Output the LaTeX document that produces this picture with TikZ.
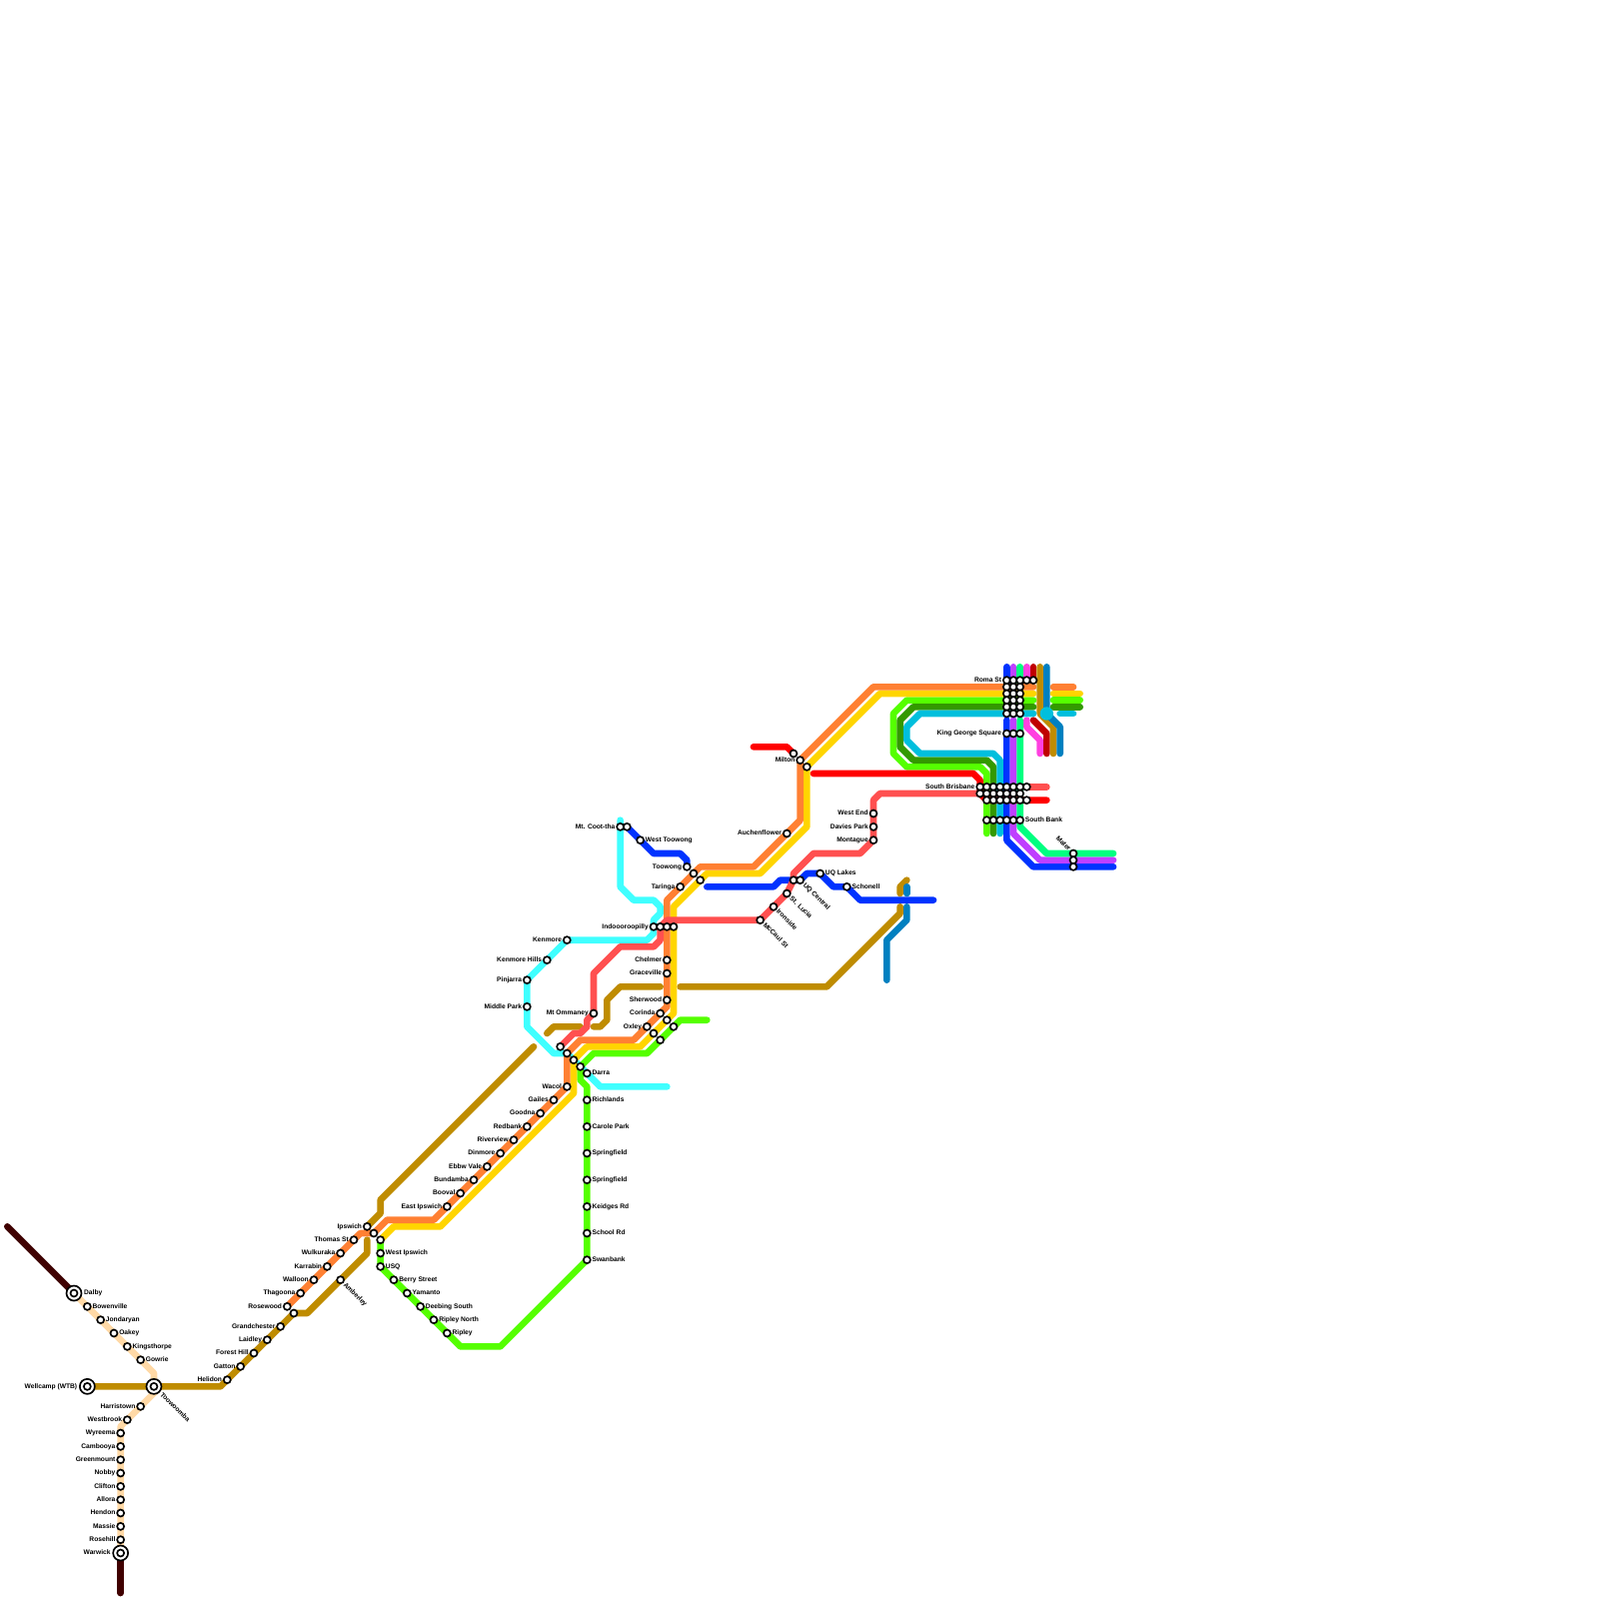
\documentclass[tikz,border=0pt]{standalone}
\usepackage{fontspec}
\setmainfont{Liberation Sans}
\pgfdeclarelayer{bg}
\pgfsetlayers{bg,main}
\definecolor{corange}{HTML}{FF8033}
\definecolor{cyellow}{HTML}{FFD500}
\definecolor{cgreen}{HTML}{55FF00}
\definecolor{cdgreen}{HTML}{339900}
\definecolor{ccyan}{HTML}{00BFDD}
\definecolor{cblue}{HTML}{0033FF}
\definecolor{cpurple}{HTML}{BF40FF}
\definecolor{cspring}{HTML}{00FF80}
\definecolor{cmagenta}{HTML}{FF40E0}
\definecolor{ccrimson}{HTML}{C00000}
\definecolor{cbrown}{HTML}{BF8C00}
\definecolor{csteel}{HTML}{0080C0}
\definecolor{ccoral}{HTML}{FF5050}
\definecolor{cred}{HTML}{FF0000}
\definecolor{caqua}{HTML}{40FFFF}
\definecolor{cpeach}{HTML}{FFD9A6}
\definecolor{cdark}{HTML}{400000}
\tikzset{
  metro/.style={draw=#1,line width=1mm,line cap=round,line join=round},
  sta/.style={circle,draw=black,fill=white,line width=.25mm,minimum size=1.05mm,inner sep=0pt},
  hub/.style={circle,draw=black,fill=white,line width=.25mm,minimum size=2.25mm,inner sep=0pt},
  lbl/.style={font=\fontsize{2.845pt}{3pt}\selectfont\bfseries,inner sep=0pt,text height=.75mm,text depth=.18mm,text=black}
}
\newcommand{\st}[3]{\node[sta] (#1) at (#2,#3) {};}
\newcommand{\stL}[4]{\node[sta] (#1) at (#2,#3) {};\node[lbl,anchor=east] (#1-t) at ([xshift=-.72mm]#1.center) {#4};}
\newcommand{\stR}[4]{\node[sta] (#1) at (#2,#3) {};\node[lbl,anchor=west] (#1-t) at ([xshift=.72mm]#1.center) {#4};}
\newcommand{\stD}[4]{\node[sta] (#1) at (#2,#3) {};\node[lbl,anchor=west,rotate=-45] (#1-t) at ([xshift=.55mm,yshift=-.55mm]#1.center) {#4};}
\newcommand{\hubL}[4]{\node[hub] (#1) at (#2,#3) {};\node[sta] (#1-i) at (#2,#3) {};\node[lbl,anchor=east] (#1-t) at ([xshift=-1.45mm]#1.center) {#4};}
\newcommand{\hubR}[4]{\node[hub] (#1) at (#2,#3) {};\node[sta] (#1-i) at (#2,#3) {};\node[lbl,anchor=west] (#1-t) at ([xshift=1.45mm]#1.center) {#4};}
\newcommand{\hubD}[4]{\node[hub] (#1) at (#2,#3) {};\node[sta] (#1-i) at (#2,#3) {};\node[lbl,anchor=west,rotate=-45] (#1-t) at ([xshift=1.05mm,yshift=-1.05mm]#1.center) {#4};}
\begin{document}
\begin{tikzpicture}[x=1mm,y=-1mm]
\useasboundingbox (-.1,-.1) rectangle (239.9,239.9);
% --- western termini
\hubR{dalby}{11}{194}{Dalby}
\stR{bowenville}{13}{196}{Bowenville}
\stR{jondaryan}{15}{198}{Jondaryan}
\stR{oakey}{17}{200}{Oakey}
\stR{kingsthorpe}{19}{202}{Kingsthorpe}
\stR{gowrie}{21}{204}{Gowrie}
\hubD{toowoomba}{23}{208}{Toowoomba}
\hubL{wellcamp}{13}{208}{Wellcamp (WTB)}
\stL{harristown}{21}{211}{Harristown}
\stL{westbrook}{19}{213}{Westbrook}
\stL{wyreema}{18}{215}{Wyreema}
\stL{cambooya}{18}{217}{Cambooya}
\stL{greenmount}{18}{219}{Greenmount}
\stL{nobby}{18}{221}{Nobby}
\stL{clifton}{18}{223}{Clifton}
\stL{allora}{18}{225}{Allora}
\stL{hendon}{18}{227}{Hendon}
\stL{massie}{18}{229}{Massie}
\stL{rosehill}{18}{231}{Rosehill}
\hubL{warwick}{18}{233}{Warwick}
% --- Ipswich west
\stL{helidon}{34}{207}{Helidon}
\stL{gatton}{36}{205}{Gatton}
\stL{foresthill}{38}{203}{Forest Hill}
\stL{laidley}{40}{201}{Laidley}
\stL{grandchester}{42}{199}{Grandchester}
\stL{rosewood}{43}{196}{Rosewood}
\st{rosewoodb}{44}{197}
\stL{thagoona}{45}{194}{Thagoona}
\stL{walloon}{47}{192}{Walloon}
\stL{karrabin}{49}{190}{Karrabin}
\stL{wulkuraka}{51}{188}{Wulkuraka}
\stL{thomas}{53}{186}{Thomas St}
\stL{ipswich}{55}{184}{Ipswich}
\st{ipswichb}{56}{185}
\st{ipswichc}{57}{186}
\stD{amberley}{51}{192}{Amberley}
% --- Ripley branch
\stR{westipswich}{57}{188}{West Ipswich}
\stR{usq}{57}{190}{USQ}
\stR{berry}{59}{192}{Berry Street}
\stR{yamanto}{61}{194}{Yamanto}
\stR{deebing}{63}{196}{Deebing South}
\stR{ripleyn}{65}{198}{Ripley North}
\stR{ripley}{67}{200}{Ripley}
\stR{swanbank}{88}{189}{Swanbank}
\stR{schoolrd}{88}{185}{School Rd}
\stR{keidges}{88}{181}{Keidges Rd}
\stR{springa}{88}{177}{Springfield}
\stR{springb}{88}{173}{Springfield}
\stR{carole}{88}{169}{Carole Park}
\stR{richlands}{88}{165}{Richlands}
\stR{darra}{88}{161}{Darra}
% --- Ipswich line
\stL{eastipswich}{67}{181}{East Ipswich}
\stL{booval}{69}{179}{Booval}
\stL{bundamba}{71}{177}{Bundamba}
\stL{ebbw}{73}{175}{Ebbw Vale}
\stL{dinmore}{75}{173}{Dinmore}
\stL{riverview}{77}{171}{Riverview}
\stL{redbank}{79}{169}{Redbank}
\stL{goodna}{81}{167}{Goodna}
\stL{gailes}{83}{165}{Gailes}
\stL{wacol}{85}{163}{Wacol}
\st{jcoral}{84}{157}
\st{jorange}{85}{158}
\st{jyellow}{86}{159}
\st{jgreen}{87}{160}
\stL{oxley}{97}{154}{Oxley}
\st{oxleyb}{98}{155}
\st{oxleyc}{99}{156}
\stL{corinda}{99}{152}{Corinda}
\st{corindab}{100}{153}
\st{corindac}{101}{154}
\stL{sherwood}{100}{150}{Sherwood}
\stL{graceville}{100}{146}{Graceville}
\stL{chelmer}{100}{144}{Chelmer}
\stL{indro}{98}{139}{Indoooroopilly}
\st{indrob}{99}{139}
\st{indroc}{100}{139}
\st{indrod}{101}{139}
\stL{mtommaney}{89}{152}{Mt Ommaney}
\stL{middlepark}{79}{151}{Middle Park}
\stL{pinjarra}{79}{147}{Pinjarra}
\stL{kenmorehills}{82}{144}{Kenmore Hills}
\stL{kenmore}{85}{141}{Kenmore}
\stL{coottha}{93}{124}{Mt. Coot-tha}
\st{cootthab}{94}{124}
\stR{westtoowong}{96}{126}{West Toowong}
\stL{toowong}{103}{130}{Toowong}
\st{toowongb}{104}{131}
\st{toowongc}{105}{132}
\stL{taringa}{102}{133}{Taringa}
\stL{auchenflower}{118}{125}{Auchenflower}
\st{miltonr}{119}{113}
\stL{milton}{120}{114}{Milton}
\st{miltony}{121}{115}
% --- UQ
\stD{mccaul}{114}{138}{McCaul St}
\stD{ironside}{116}{136}{Ironside}
\stD{stlucia}{118}{134}{St. Lucia}
\st{uqa}{119}{132}
\stD{uqcentral}{120}{132}{UQ Central}
\stR{uqlakes}{123}{131}{UQ Lakes}
\stR{schonell}{127}{133}{Schonell}
\stL{montague}{131}{126}{Montague}
\stL{davies}{131}{124}{Davies Park}
\stL{westend}{131}{122}{West End}
% --- city block
\stL{roma}{151}{102}{Roma St}
\foreach \x in {152,153,154,155}{\st{r\x}{\x}{102}}
\foreach \y in {103,...,107}{\foreach \x in {151,152,153}{\st{b\x-\y}{\x}{\y}}}
\stL{kgs}{151}{110}{King George Square}
\st{kgsb}{152}{110}
\st{kgsc}{153}{110}
\stL{sthbris}{147}{118}{South Brisbane}
\foreach \x in {148,...,154}{\st{sa\x}{\x}{118}}
\foreach \x in {147,...,153}{\st{sb\x}{\x}{119}}
\foreach \x in {148,...,154}{\st{sc\x}{\x}{120}}
\foreach \x in {148,...,152}{\st{sd\x}{\x}{123}}
\stR{southbank}{153}{123}{South Bank}
\node[sta] (matera) at (161,128) {};
\node[lbl,anchor=east,rotate=-45] (mater-t) at ([xshift=-.5mm,yshift=.5mm]matera.center) {Mater};
\st{materb}{161}{129}
\st{materc}{161}{130}
\begin{pgfonlayer}{bg}
% dark ends and peach
\draw[metro=cdark] (1,184) -- (dalby.center);
\draw[metro=cdark] (warwick.center) -- (18,239);
\draw[metro=cpeach] (dalby.center) -- (bowenville.center) -- (jondaryan.center) -- (oakey.center) -- (kingsthorpe.center) -- (gowrie.center) -- (23,206) -- (toowoomba.center) -- (24,208) -- (18,214) -- (wyreema.center) -- (cambooya.center) -- (greenmount.center) -- (nobby.center) -- (clifton.center) -- (allora.center) -- (hendon.center) -- (massie.center) -- (rosehill.center) -- (warwick.center);
% brown
\draw[metro=cbrown] (wellcamp.center) -- (toowoomba.center) -- (33,208) -- (helidon.center) -- (gatton.center) -- (foresthill.center) -- (laidley.center) -- (grandchester.center) -- (rosewoodb.center) -- (46,197) -- (amberley.center) -- (55,188) -- (55,186);
\draw[metro=cbrown] (ipswich.center) -- (57,182) -- (57,180) -- (80,157);
\draw[metro=cbrown] (82,155) -- (83,154) -- (87,154);
\draw[metro=cbrown] (89,154) -- (90,154) -- (91,153) -- (91,150) -- (93,148) -- (99,148);
\draw[metro=cbrown] (102,148) -- (124,148) -- (135,137) -- (135,136);
\draw[metro=cbrown] (135,134) -- (135,133) -- (136,132);
% steel pieces
\draw[metro=csteel] (136,133) -- (136,134);
\draw[metro=csteel] (136,136) -- (136,138) -- (133,141) -- (133,147);
% aqua
\draw[metro=caqua] (93,123) -- (coottha.center) -- (93,133) -- (95,135) -- (98,135) -- (99,136) -- (99,137) -- (98,138) -- (indro.center) -- (98,140) -- (97,141) -- (kenmore.center) -- (kenmorehills.center) -- (pinjarra.center) -- (middlepark.center) -- (79,154) -- (83,158) -- (jorange.center) -- (darra.center) -- (90,163) -- (100,163);
% verticals of the city
\draw[metro=cblue] (151,100) -- (roma.center) -- (151,106);
\draw[metro=cpurple] (152,100) -- (152,106);
\draw[metro=cspring] (153,100) -- (153,106);
\draw[metro=cmagenta] (154,100) -- (r154.center);
\draw[metro=ccrimson] (155,100) -- (r155.center);
\draw[metro=cmagenta] (154,108) -- (154,109) -- (156,111) -- (156,113);
\draw[metro=ccrimson] (155,108) -- (157,110) -- (157,113);
\draw[metro=cbrown] (156,100) -- (156,107) -- (158,109) -- (158,113);
\draw[metro=csteel] (157,100) -- (157,107) -- (159,109) -- (159,113);
% green
\draw[metro=cgreen] (jgreen.center) -- (89,158) -- (97,158) -- (oxleyc.center) -- (corindac.center) -- (102,153) -- (106,153);
\draw[metro=cgreen] (jgreen.center) -- (87,162) -- (88,163) -- (richlands.center) -- (carole.center) -- (springb.center) -- (springa.center) -- (keidges.center) -- (schoolrd.center) -- (swanbank.center) -- (75,202) -- (69,202) -- (ripley.center) -- (ripleyn.center) -- (deebing.center) -- (yamanto.center) -- (berry.center) -- (usq.center) -- (westipswich.center) -- (ipswichc.center);
\draw[metro=cgreen] (155,105) -- (136,105) -- (134,107) -- (134,113) -- (136,115) -- (147,115) -- (148,116) -- (148,125);
\draw[metro=cgreen] (158,105) -- (162,105);
% dark green
\draw[metro=cdgreen] (155,106) -- (137,106) -- (135,108) -- (135,112) -- (137,114) -- (148,114) -- (149,115) -- (149,125);
\draw[metro=cdgreen] (158,106) -- (162,106);
% cyan
\draw[metro=ccyan] (155,107) -- (138,107) -- (136,109) -- (136,111) -- (138,113) -- (149,113) -- (150,114) -- (150,125);
\draw[metro=ccyan] (159,107) -- (161,107);
% yellow
\draw[metro=cyellow] (ipswichc.center) -- (59,184) -- (66,184) -- (86,164) -- (jyellow.center) -- (88,157) -- (96,157) -- (oxleyb.center) -- (corindab.center) -- (101,152) -- (indrod.center) -- (101,136) -- (106,131) -- (114,131) -- (121,124) -- (miltony.center) -- (132,104) -- (155,104);
\draw[metro=cyellow] (158,104) -- (162,104);
% orange
\draw[metro=corange] (rosewood.center) -- (thagoona.center) -- (walloon.center) -- (karrabin.center) -- (wulkuraka.center) -- (thomas.center) -- (54,185) -- (ipswichb.center) -- (58,183) -- (65,183) -- (eastipswich.center) -- (booval.center) -- (bundamba.center) -- (ebbw.center) -- (dinmore.center) -- (riverview.center) -- (redbank.center) -- (goodna.center) -- (gailes.center) -- (wacol.center) -- (jorange.center) -- (87,156) -- (95,156) -- (oxley.center) -- (corinda.center) -- (100,151) -- (sherwood.center) -- (graceville.center) -- (chelmer.center) -- (indroc.center) -- (100,135) -- (toowongb.center) -- (105,130) -- (113,130) -- (auchenflower.center) -- (120,123) -- (milton.center) -- (131,103) -- (155,103);
\draw[metro=corange] (158,103) -- (161,103);
% blues
\draw[metro=cblue] (cootthab.center) -- (westtoowong.center) -- (98,128) -- (102,128) -- (103,129) -- (toowong.center);
\draw[metro=cblue] (106,133) -- (116,133) -- (117,132) -- (uqa.center) -- (uqcentral.center) -- (121,131) -- (uqlakes.center) -- (125,133) -- (schonell.center) -- (129,135) -- (140,135);
\draw[metro=cblue] (151,108) -- (kgs.center) -- (151,126) -- (155,130) -- (materc.center) -- (167,130);
\draw[metro=cpurple] (152,108) -- (kgsb.center) -- (152,125) -- (156,129) -- (materb.center) -- (167,129);
\draw[metro=cspring] (153,108) -- (kgsc.center) -- (southbank.center) -- (153,124) -- (157,128) -- (matera.center) -- (167,128);
% bright red
\draw[metro=cred] (113,112) -- (118,112) -- (miltonr.center);
\draw[metro=cred] (122,116) -- (146,116) -- (147,117) -- (147,119) -- (sc148.center) -- (sc154.center) -- (157,120);
% coral
\draw[metro=ccoral] (jcoral.center) -- (86,155) -- (87,155) -- (88,154) -- (88,153) -- (mtommaney.center) -- (89,146) -- (93,142) -- (98,142) -- (99,141) -- (indrob.center) -- (100,138) -- (mccaul.center) -- (ironside.center) -- (stlucia.center) -- (uqa.center) -- (119,131) -- (122,128) -- (129,128) -- (montague.center) -- (davies.center) -- (westend.center) -- (131,120) -- (132,119) -- (sb147.center);
\draw[metro=ccoral] (sa154.center) -- (157,118);
\end{pgfonlayer}
\node[circle,fill=ccyan,minimum size=2mm,inner sep=0pt] (cbd) at (157,107) {};
\end{tikzpicture}
\end{document}
